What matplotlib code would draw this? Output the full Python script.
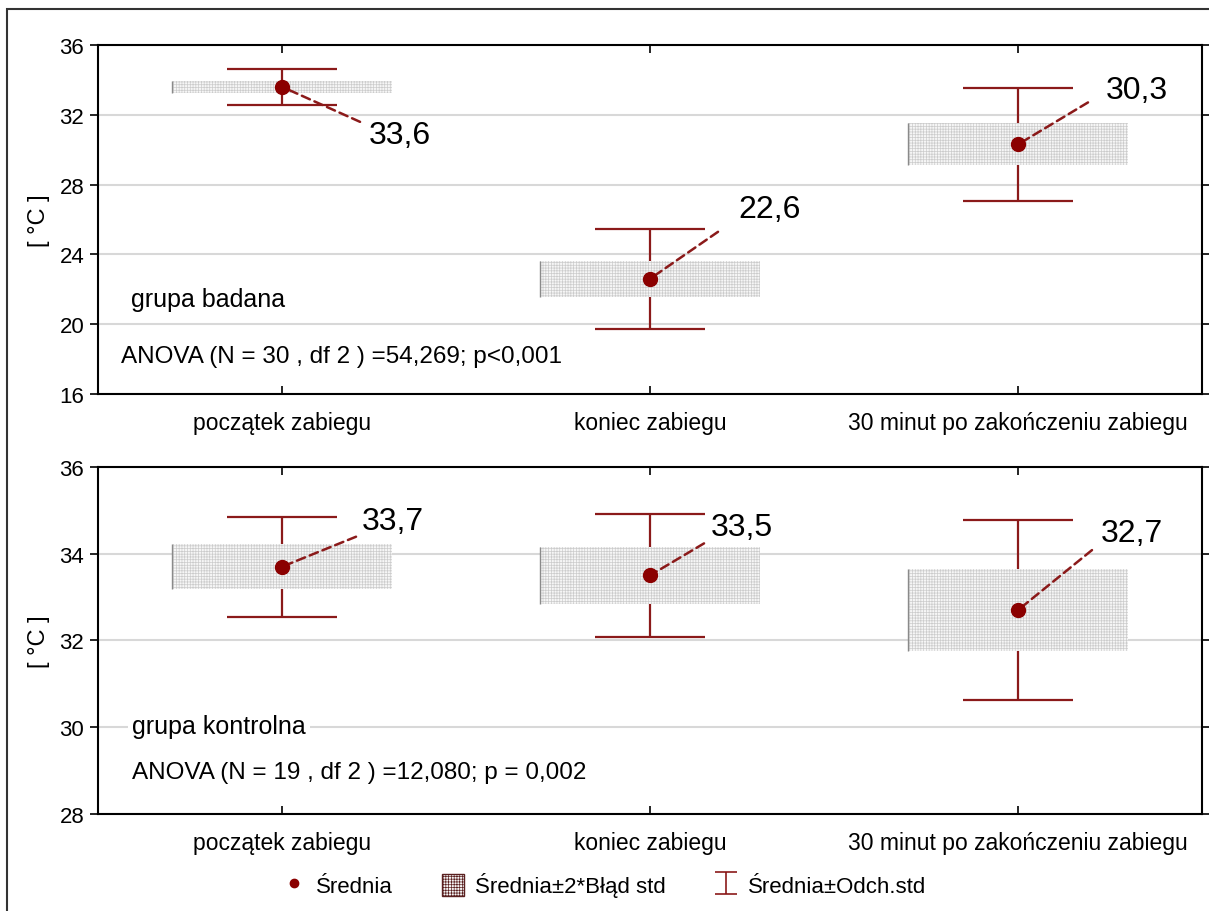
import matplotlib
matplotlib.use('Agg')
import matplotlib.pyplot as plt
from matplotlib.patches import Rectangle, Patch
from matplotlib.lines import Line2D
from matplotlib.path import Path

plt.rcParams['font.family'] = ['Liberation Sans', 'DejaVu Sans']
plt.rcParams['hatch.linewidth'] = 0.5

etapy = ['początek zabiegu', 'koniec zabiegu', '30 minut po zakończeniu zabiegu']

# grupa badana
srednia_bad = [33.6, 22.6, 30.3]
odch_bad = [1.03, 2.88, 3.24]
blad2_bad = [0.33, 1.03, 1.20]

# grupa kontrolna
srednia_kon = [33.7, 33.5, 32.7]
odch_kon = [1.15, 1.42, 2.07]
blad2_kon = [0.52, 0.65, 0.94]

etykiety_bad = ['33,6', '22,6', '30,3']
etykiety_kon = ['33,7', '33,5', '32,7']

# przesuniecia opisow (piksele): koniec linii, poczatek tekstu
linia_bad = [(78, -35), (68, 47), (70, 42)]
tekst_bad = [(87, -48), (88, 70), (88, 54)]
linia_kon = [(74, 30), (54, 32), (74, 60)]
tekst_kon = [(80, 46), (61, 48), (83, 77)]

ciemny = '#8b1a1a'
kropka = '#8b0000'
kratka = '#cccccc'
tlo = '#f6f6f6'


def panel(ax, srednia, odch, blad2, etykiety, linia, tekst, yt, opis, anova):
    for i in range(len(etapy)):
        m = srednia[i]
        ax.vlines(i, m - odch[i], m + odch[i], color=ciemny, lw=1.6, zorder=2)
        ax.hlines([m - odch[i], m + odch[i]], i - 0.15, i + 0.15, color=ciemny, lw=1.6, zorder=2)
        ax.add_patch(Rectangle((i - 0.3, m - blad2[i]), 0.6, 2 * blad2[i],
                               facecolor=tlo, edgecolor=kratka, lw=0, hatch='++++++', zorder=3))
        ax.vlines(i - 0.3, m - blad2[i], m + blad2[i], color='#8a8a8a', lw=1.0, zorder=3)
        ax.annotate('', xy=(i, m), xytext=linia[i], textcoords='offset pixels',
                    arrowprops=dict(arrowstyle='-', color=ciemny, lw=1.8, ls=(0, (3.5, 2)),
                                    shrinkA=0, shrinkB=0), zorder=4)
        ax.plot(i, m, 'o', color=kropka, ms=10, zorder=5)
        ax.annotate(etykiety[i], xy=(i, m), xytext=tekst[i], textcoords='offset pixels',
                    ha='left', va='center', fontsize=23, zorder=6)
    ax.set_xlim(-0.5, 2.5)
    ax.set_ylim(yt[0], yt[-1])
    ax.set_yticks(yt)
    ax.set_xticks(range(len(etapy)))
    ax.set_xticklabels(etapy, fontsize=16.5)
    ax.tick_params(axis='y', direction='out', length=6, width=1.2, labelsize=16, pad=4)
    ax.tick_params(axis='y', right=True)
    ax.tick_params(axis='x', direction='in', top=True, length=6, width=1.2, pad=12)
    ax.grid(axis='y', color='#d8d8d8', lw=1.5)
    ax.set_axisbelow(True)
    for s in ax.spines.values():
        s.set_linewidth(1.5)
    ax.set_ylabel('[ °C ]', fontsize=17)
    ax.yaxis.set_label_coords(-0.0435, 0.5)
    ax.text(opis[0], opis[1], opis[2], transform=ax.transAxes, fontsize=18, va='center',
            bbox=dict(facecolor='white', edgecolor='none', pad=3))
    ax.text(anova[0], anova[1], anova[2], transform=ax.transAxes, fontsize=17.5, va='center',
            bbox=dict(facecolor='white', edgecolor='none', pad=3))


fig = plt.figure(figsize=(12.09, 9.12), dpi=100)
ax1 = fig.add_axes([0.0811, 0.5669, 0.9131, 0.3827])
ax2 = fig.add_axes([0.0811, 0.1064, 0.9131, 0.3805])

panel(ax1, srednia_bad, odch_bad, blad2_bad, etykiety_bad, linia_bad, tekst_bad,
      [16, 20, 24, 28, 32, 36], (0.03, 0.272, 'grupa badana'),
      (0.021, 0.109, 'ANOVA (N = 30 , df 2 ) =54,269; p<0,001'))
panel(ax2, srednia_kon, odch_kon, blad2_kon, etykiety_kon, linia_kon, tekst_kon,
      [28, 30, 32, 34, 36], (0.031, 0.254, 'grupa kontrolna'),
      (0.031, 0.121, 'ANOVA (N = 19 , df 2 ) =12,080; p = 0,002'))

# legenda
znak_I = Path([(-1, 1), (1, 1), (0, 1), (0, -1), (-1, -1), (1, -1)],
              [Path.MOVETO, Path.LINETO, Path.MOVETO, Path.LINETO, Path.MOVETO, Path.LINETO])
uchwyty = [
    Line2D([], [], marker='o', color=kropka, ls='none', ms=6),
    Patch(facecolor=tlo, edgecolor='#5a2020', hatch='++++++', lw=1.0),
    Line2D([], [], marker=znak_I, color=ciemny, ls='none', ms=16, mew=1.2),
]
fig.legend(uchwyty, ['Średnia', 'Średnia±2*Błąd std', 'Średnia±Odch.std'],
           loc='center', bbox_to_anchor=(0.5, 1 - 886 / 912), ncol=3, frameon=False,
           fontsize=16, handlelength=1.0, handleheight=1.2, columnspacing=2.2, handletextpad=0.5)

# ramka wokol calego rysunku
fig.add_artist(Rectangle((7 / 1209, -0.01), 1.02, 1 - 10 / 912 + 0.01, transform=fig.transFigure,
                         facecolor='none', edgecolor='#333333', lw=1.5))

fig.savefig('out.png', dpi=100)
